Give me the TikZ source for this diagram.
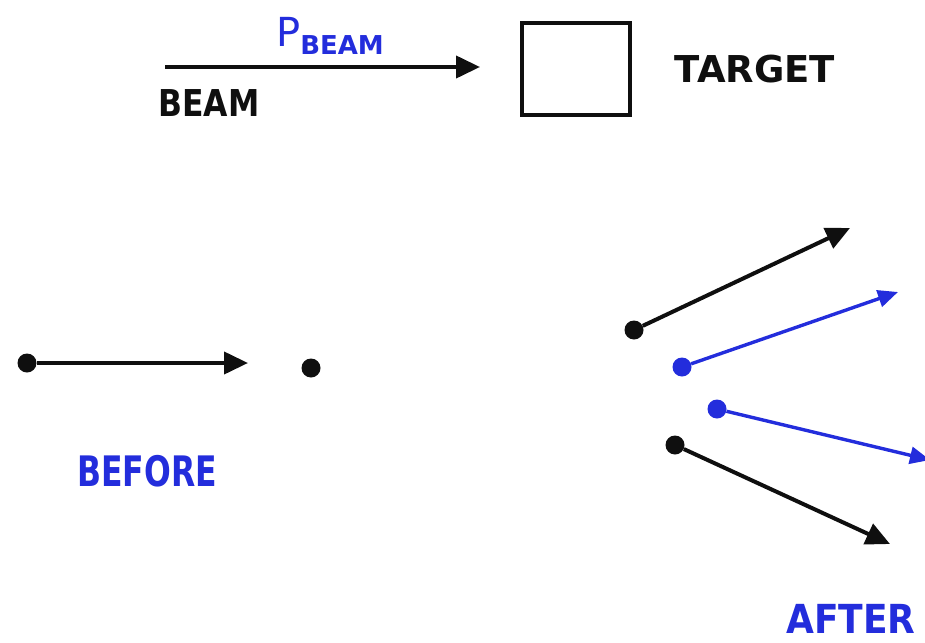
\documentclass[tikz,border=0pt]{standalone}
\usepackage{fontspec}
\usepackage{graphicx}
\setmainfont{DejaVu Sans}
\usetikzlibrary{arrows.meta}
\definecolor{inkblue}{RGB}{35,45,220}
\definecolor{ink}{RGB}{15,15,15}
\tikzset{
  vec/.style={line width=4pt, draw=ink, -{Triangle[length=24pt,width=22pt]}},
  bvec/.style={line width=3.4pt, draw=inkblue, -{Triangle[length=20pt,width=17pt]}},
  kdot/.style={circle, fill=ink, inner sep=0pt, minimum size=19pt},
  bdot/.style={circle, fill=inkblue, inner sep=0pt, minimum size=19pt},
  lbl/.style={inner sep=0pt, text=ink, font=\bfseries},
  blbl/.style={inner sep=0pt, text=inkblue, font=\bfseries},
}
\begin{document}
\begin{tikzpicture}[x=1pt,y=-1pt]
\useasboundingbox (0,0) rectangle (925,642);
% top: beam and target
\coordinate (beamstart) at (165,67);
\coordinate (beamend) at (480,67);
\draw[vec] (beamstart) -- (beamend);
\node[blbl, font=\mdseries] (pbeam) at (330,36) {\fontsize{40}{40}\selectfont P\raisebox{-8pt}{\fontsize{26}{26}\selectfont\bfseries BEAM}};
\node[lbl] (beam) at (209,103) {\scalebox{0.85}[1]{\fontsize{37}{37}\selectfont BEAM}};
\node[draw=ink, line width=4.5pt, minimum width=108pt, minimum height=92pt, inner sep=0pt] (target) at (576,69) {};
\node[lbl] (targetlbl) at (755,69) {\fontsize{37}{37}\selectfont TARGET};
% before
\node[kdot] (b1) at (27,363) {};
\coordinate (b1end) at (248,363);
\draw[vec] (b1) -- (b1end);
\node[kdot] (b2) at (311,368) {};
\node[blbl] (before) at (147,471) {\scalebox{0.75}[1]{\fontsize{42}{42}\selectfont BEFORE}};
% after
\node[kdot] (a1) at (634,330) {};
\coordinate (a1end) at (850,228);
\draw[vec] (a1) -- (a1end);
\node[bdot] (a2) at (682,367) {};
\coordinate (a2end) at (898,292);
\draw[bvec] (a2) -- (a2end);
\node[bdot] (a3) at (717,409) {};
\coordinate (a3end) at (930,460);
\draw[bvec] (a3) -- (a3end);
\node[kdot] (a4) at (675,445) {};
\coordinate (a4end) at (890,544);
\draw[vec] (a4) -- (a4end);
\node[blbl] (after) at (851,619) {\scalebox{0.9}[1]{\fontsize{40}{40}\selectfont AFTER}};
\end{tikzpicture}
\end{document}
